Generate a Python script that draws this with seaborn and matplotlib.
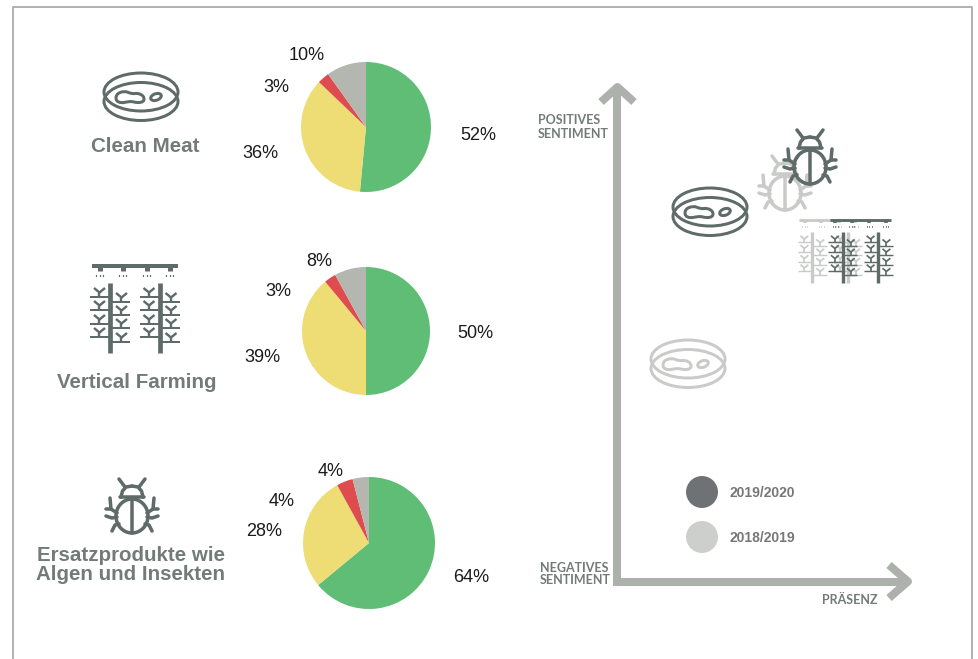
import matplotlib
matplotlib.use('Agg')
import matplotlib.pyplot as plt
from matplotlib.patches import Ellipse, PathPatch
from matplotlib.path import Path
import pandas as pd
import seaborn as sns

# Data
topics = ['Clean Meat', 'Vertical Farming', 'Ersatzprodukte wie\nAlgen und Insekten']
clean_meat = [52, 36, 3, 10]
vertical_farming = [50, 39, 3, 8]
ersatzprodukte = [64, 28, 4, 4]
pie_colors = ['#60BD75', '#EDDD74', '#DE4C50', '#B4B6B0']
years = ['2019/2020', '2018/2019']
year_colors = ['#6E7275', '#CDCFCD']

sns.set_theme(style='white')
plt.rcParams['font.family'] = ['Liberation Sans', 'DejaVu Sans']

W, H = 979, 659
DARK = '#5F6B68'
LIGHT = '#C9CBC9'
TEXT = '#737B78'
ARROW = '#ADB1AB'
px = 0.72  # one pixel in points

fig = plt.figure(figsize=(W / 100, H / 100), dpi=100, facecolor='white')

# pixel canvas for everything that is not a pie
ax = fig.add_axes([0, 0, 1, 1])
ax.set_xlim(0, W)
ax.set_ylim(H, 0)
ax.axis('off')


def line(xs, ys, color, lw, z=2, cap='round'):
    ax.plot(xs, ys, color=color, lw=lw * px, solid_capstyle=cap, solid_joinstyle='round', zorder=z)


def draw_dish(cx, cy, color, s=1.0, z=2):
    lw = 3 * s
    ax.add_patch(Ellipse((cx, cy - 5 * s), 74 * s, 38 * s, fill=False, ec=color, lw=lw * px, zorder=z))
    ax.add_patch(Ellipse((cx, cy + 4.5 * s), 74 * s, 38 * s, fill=False, ec=color, lw=lw * px, zorder=z))
    # peanut shaped blob and the small one next to it
    verts = [(-25, 1),
             (-25, -5), (-17, -6), (-14, -5),
             (-11, -4), (-9, -3), (-6, -3.5),
             (-2, -4), (3, -2), (3, 2),
             (3, 6), (-3, 6), (-7, 5),
             (-11, 4), (-14, 5), (-17, 5.5),
             (-21, 6), (-25, 5), (-25, 1)]
    codes = [Path.MOVETO] + [Path.CURVE4] * 18
    blob = Path([(cx + x * s, cy + y * s) for x, y in verts], codes)
    ax.add_patch(PathPatch(blob, fill=False, ec=color, lw=lw * px, zorder=z))
    ax.add_patch(Ellipse((cx + 15 * s, cy), 11 * s, 6.5 * s, angle=-20, fill=False, ec=color, lw=lw * px, zorder=z))


def draw_bug(cx, cy, color, s=1.0, z=2):
    lw = 3.5 * s
    ax.add_patch(Ellipse((cx, cy), 32 * s, 34 * s, fill=False, ec=color, lw=lw * px, zorder=z))
    line([cx, cx], [cy - 17 * s, cy + 17 * s], color, lw, z)
    line([cx - 12 * s, cx + 12 * s], [cy - 19 * s, cy - 19 * s], color, lw, z)
    for m in (-1, 1):
        # head dome
        line([cx + m * 11 * s, cx + m * 9.5 * s, cx + m * 6 * s, cx],
             [cy - 19 * s, cy - 25 * s, cy - 29 * s, cy - 30 * s], color, lw, z)
        # antenna
        line([cx + m * 7 * s, cx + m * 13 * s], [cy - 29 * s, cy - 37 * s], color, lw, z)
        # upper leg with branch, middle leg, lower leg
        line([cx + m * 22 * s, cx + m * 21 * s, cx + m * 15 * s], [cy - 18 * s, cy - 7 * s, cy - 3 * s], color, lw, z)
        line([cx + m * 26 * s, cx + m * 21 * s], [cy - 7 * s, cy - 7 * s], color, lw, z)
        line([cx + m * 26 * s, cx + m * 20 * s, cx + m * 15 * s], [cy, cy + 2 * s, cy + 1 * s], color, lw, z)
        line([cx + m * 20 * s, cx + m * 17 * s, cx + m * 13 * s], [cy + 15 * s, cy + 9 * s, cy + 8 * s], color, lw, z)


def draw_farm(cx, top, color, s=1.0, z=2):
    # spray bar
    line([cx - 43 * s, cx + 43 * s], [top, top], color, 4 * s, z, 'butt')
    for nx in (-35, -12, 12, 35):
        line([cx + nx * s] * 2, [top, top + 4.5 * s], color, 5 * s, z, 'butt')
        for dx in (-3.5, 0, 3.5):
            line([cx + (nx + dx) * s] * 2, [top + 9 * s, top + 10 * s], color, 1.3 * s, z)
    # two stems with four shelves of seedlings on each side
    for stem in (-24.5, 25):
        sx = cx + stem * s
        line([sx, sx], [top + 17 * s, top + 87 * s], color, 4.7 * s, z, 'butt')
        for m, rows in ((-1, (31, 44, 58, 71)), (1, (36, 49, 62, 76))):
            for row in rows:
                y0 = top + row * s
                line([sx, sx + m * 20 * s], [y0, y0], color, 2 * s, z, 'butt')
                yx = sx + m * 11 * s
                line([yx, yx], [y0, y0 - 4.5 * s], color, 2.4 * s, z, 'butt')
                line([yx - 5.5 * s, yx, yx + 5.5 * s], [y0 - 9 * s, y0 - 4.5 * s, y0 - 9 * s], color, 2.4 * s, z, 'butt')


def draw_pie(values, cx, cy, r):
    # default pie limits are +-1.25, so an axes of 2.5 r gives radius r
    size = 2.5 * r
    pie_ax = fig.add_axes([(cx - size / 2) / W, 1 - (cy + size / 2) / H, size / W, size / H])
    pie_ax.pie(values, colors=pie_colors, startangle=90, counterclock=False, wedgeprops={'linewidth': 0})
    pie_ax.patch.set_alpha(0)


# outer frame, its bottom edge is cut off
line([13, 13, 972, 972], [H, 7, 7, H], '#ABABAB', 1.8, 1, 'butt')

# left column
draw_dish(141, 97, DARK)
draw_farm(135, 266, DARK)
draw_bug(132, 516, DARK)
label_y = [147, 382, 565]
label_x = [145, 137, 131]
for name, x, y in zip(topics, label_x, label_y):
    ax.text(x, y, name, ha='center', va='center', color=TEXT, fontsize=14.8, fontweight='bold', linespacing=1.05)

# pies with their labels
draw_pie(clean_meat, 366, 127, 65)
draw_pie(vertical_farming, 366, 331, 64)
draw_pie(ersatzprodukte, 369, 543, 66)

label_pos = [
    (clean_meat, [(478, 135), (260, 154), (276, 87), (307, 56)]),
    (vertical_farming, [(475, 334), (262, 358), (278, 291), (319, 261)]),
    (ersatzprodukte, [(471, 578), (264, 532), (282, 501), (331, 472)]),
]
for values, positions in label_pos:
    for v, (x, y) in zip(values, positions):
        ax.text(x, y, f'{v}%', ha='center', va='center', color='#1A1A1A', fontsize=13)

# sentiment / presence axes
line([617.5, 617.5], [586, 90], ARROW, 8, 2, 'butt')
line([613.5, 906], [581.5, 581.5], ARROW, 8, 2, 'butt')
line([601, 617.5, 634], [102, 87, 102], ARROW, 8, 2, 'butt')
line([889, 908, 889], [565, 581.5, 598], ARROW, 8, 2, 'butt')

ax.text(538, 127, 'POSITIVES\nSENTIMENT', ha='left', va='center', color=TEXT, fontsize=9,
        fontweight='bold', family='Lato', linespacing=1.1)
ax.text(540, 574, 'NEGATIVES\nSENTIMENT', ha='left', va='center', color=TEXT, fontsize=9,
        fontweight='bold', family='Lato', linespacing=1.1)
ax.text(850, 600, 'PRÄSENZ', ha='center', va='center', color=TEXT, fontsize=9,
        fontweight='bold', family='Lato')

# icons placed in the sentiment chart, last year first so the current ones are on top
draw_dish(688, 364, LIGHT)
draw_bug(785, 193, LIGHT)
draw_farm(830, 220, LIGHT, 0.72)
draw_dish(710, 212, DARK, z=3)
draw_bug(810, 167, DARK, z=3)
draw_farm(860.5, 220, DARK, 0.72, z=3)

# year legend
legend = pd.DataFrame({'x': [702, 702], 'y': [492, 537], 'year': years})
sns.scatterplot(data=legend, x='x', y='y', hue='year', palette=year_colors, s=530, linewidth=0,
                legend=False, ax=ax, zorder=3)
ax.set_xlim(0, W)
ax.set_ylim(H, 0)
for year, y in zip(years, legend['y']):
    ax.text(730, y + 1, year, ha='left', va='center', color='#777777', fontsize=10, fontweight='bold')

fig.savefig('out.png', dpi=100)
